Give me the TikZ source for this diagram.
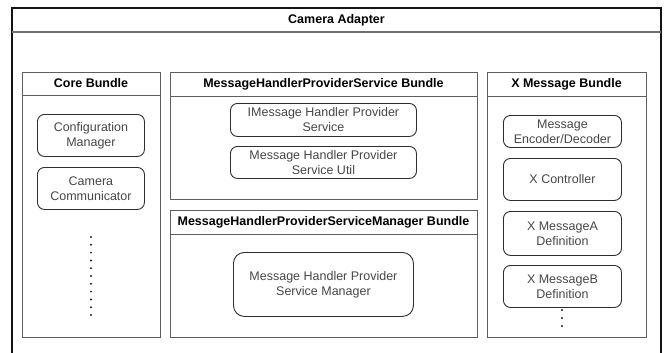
\documentclass[tikz,border=0pt]{standalone}
\usepackage{fontspec}
\setmainfont{Liberation Sans}

\definecolor{framecol}{RGB}{20, 20, 20}
\definecolor{barcol}{RGB}{110, 110, 110}
\definecolor{bundlecol}{RGB}{95, 95, 95}
\definecolor{itemcol}{RGB}{45, 45, 45}
\definecolor{itemtext}{RGB}{70, 70, 70}
\definecolor{dotcol}{RGB}{30, 30, 30}

\begin{document}
\begin{tikzpicture}[x=1pt, y=-1pt,
    bundle/.style={draw=bundlecol, line width=0.9pt, anchor=north west, inner sep=0pt},
    head/.style={font=\bfseries\fontsize{12.5}{15}\selectfont, text=black},
    item/.style={draw=itemcol, line width=0.9pt, rounded corners=7pt, anchor=north west,
        inner sep=0pt, align=center, text=itemtext, font=\fontsize{12.5}{15}\selectfont}]
    \useasboundingbox (0,0) rectangle (664,353);

    % Outer frame, open at the bottom
    \draw[framecol, line width=1.2pt] (12,353) -- (12,8) -- (661,8) -- (661,353);
    \draw[barcol, line width=1.2pt] (12,32) -- (661,32);
    \node[head] (adapter) at (336.5,20) {Camera Adapter};

    % Bundles
    \node[bundle, minimum width=138pt, minimum height=265pt] (core) at (22,72) {};
    \node[bundle, minimum width=307pt, minimum height=127pt] (svc) at (170,72) {};
    \node[bundle, minimum width=307pt, minimum height=127pt] (mgr) at (170,210) {};
    \node[bundle, minimum width=159pt, minimum height=265pt] (xmsg) at (487,72) {};

    % Header bars
    \draw[bundlecol, line width=0.9pt] (22,95) -- (160,95);
    \draw[bundlecol, line width=0.9pt] (170,96) -- (477,96);
    \draw[bundlecol, line width=0.9pt] (170,234) -- (477,234);
    \draw[bundlecol, line width=0.9pt] (487,96) -- (646,96);

    \node[head] (core-head) at (91,83.5) {Core Bundle};
    \node[head] (svc-head) at (323.5,84) {MessageHandlerProviderService Bundle};
    \node[head] (mgr-head) at (323.5,222) {MessageHandlerProviderServiceManager Bundle};
    \node[head] (xmsg-head) at (566.5,84) {X Message Bundle};

    % Core Bundle items
    \node[item, minimum width=107pt, minimum height=42pt] (config) at (37,114) {Configuration\\Manager};
    \node[item, minimum width=107pt, minimum height=42pt] (camcom) at (37,167) {Camera\\Communicator};
    \foreach \y in {237,244.8,...,316}
        \fill[dotcol] (91,\y) circle (1.1pt);

    % MessageHandlerProviderService Bundle items
    \node[item, minimum width=186pt, minimum height=33pt] (isvc) at (230,103) {IMessage Handler Provider\\Service};
    \node[item, minimum width=186pt, minimum height=32pt] (svcutil) at (230,146) {Message Handler Provider\\Service Util};

    % MessageHandlerProviderServiceManager Bundle item
    \node[item, minimum width=180pt, minimum height=64pt, rounded corners=11pt] (svcmgr) at (233,252) {Message Handler Provider\\Service Manager};

    % X Message Bundle items
    \node[item, minimum width=118pt, minimum height=32pt] (codec) at (503,115) {Message\\Encoder/Decoder};
    \node[item, minimum width=118pt, minimum height=42pt] (xctrl) at (503,158) {X Controller};
    \node[item, minimum width=118pt, minimum height=44pt] (xmsga) at (503,211) {X MessageA\\Definition};
    \node[item, minimum width=118pt, minimum height=42pt] (xmsgb) at (503,265) {X MessageB\\Definition};
    \foreach \y in {310,318,326}
        \fill[dotcol] (562,\y) circle (1.1pt);

\end{tikzpicture}
\end{document}
